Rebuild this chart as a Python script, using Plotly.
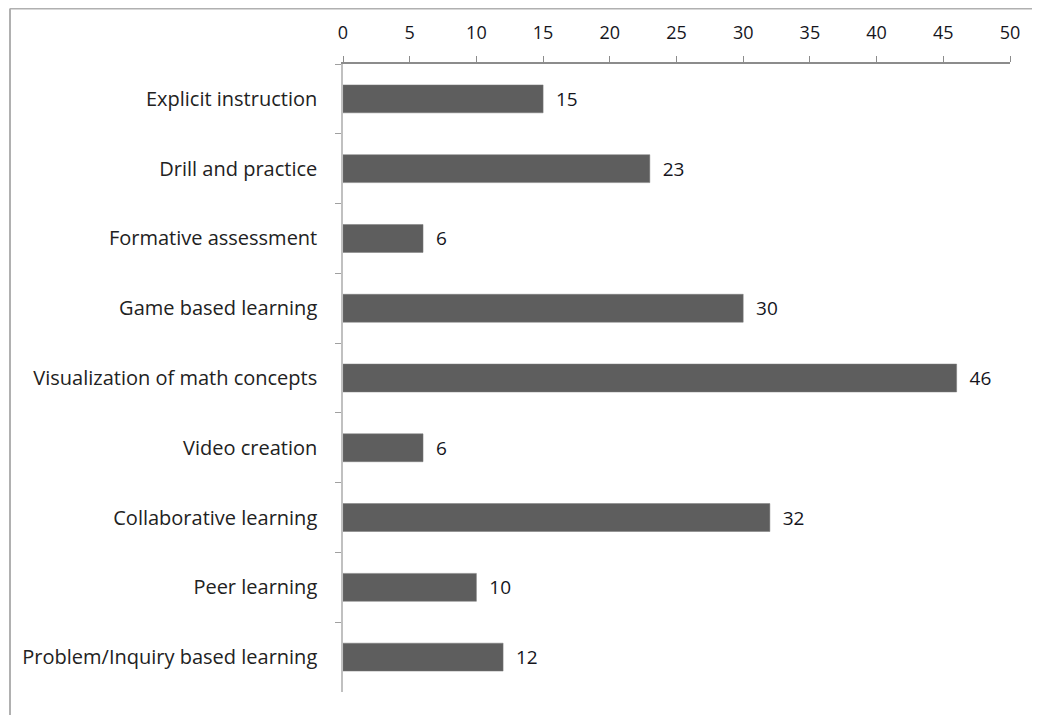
import plotly.graph_objects as go

categories = [
    "Explicit instruction",
    "Drill and practice",
    "Formative assessment",
    "Game based learning",
    "Visualization of math concepts",
    "Video creation",
    "Collaborative learning",
    "Peer learning",
    "Problem/Inquiry based learning",
]
values = [15, 23, 6, 30, 46, 6, 32, 10, 12]
x_ticks = [0, 5, 10, 15, 20, 25, 30, 35, 40, 45, 50]

# page has an 8px body margin, so the figure is sized to fit the window
W, H = 1032, 707
L, R, T, B = 335, 30, 56, 23
pw, ph = W - L - R, H - T - B

FONT = "Open Sans"

fig = go.Figure(go.Bar(
    y=categories,
    x=values,
    orientation="h",
    marker=dict(color="#5e5e5e", line=dict(color="#7a7a7a", width=0.5)),
    text=[str(v) for v in values],
    texttemplate="  %{text}",
    textposition="outside",
    textfont=dict(family=FONT, size=19, color="#15151c"),
    cliponaxis=False,
    width=0.4,
))

# outer frame lines (top and left)
fx = (2 - L) / pw
fy = 1 + (T - 0.5) / ph
fig.add_shape(type="line", xref="paper", yref="paper", x0=fx, x1=1 + R / pw, y0=fy, y1=fy,
              line=dict(color="#b0b0b0", width=2))
fig.add_shape(type="line", xref="paper", yref="paper", x0=fx, x1=fx, y0=fy, y1=-B / ph,
              line=dict(color="#b0b0b0", width=2))

fig.update_layout(
    width=W, height=H,
    margin=dict(l=L, r=R, t=T, b=B),
    paper_bgcolor="white",
    plot_bgcolor="white",
    showlegend=False,
    font=dict(family=FONT, size=20, color="#222222"),
    xaxis=dict(
        side="top",
        range=[0, 50],
        tickvals=x_ticks,
        ticktext=[str(t) for t in x_ticks],
        showgrid=False,
        zeroline=False,
        showline=True,
        linecolor="#8c8c8c",
        linewidth=1.5,
        ticks="outside",
        ticklen=6,
        tickcolor="#8c8c8c",
        ticklabelstandoff=10,
        tickfont=dict(family=FONT, size=18, color="#15151c"),
        fixedrange=True,
    ),
    yaxis=dict(
        categoryorder="array",
        categoryarray=categories,
        autorange="reversed",
        showgrid=False,
        zeroline=False,
        showline=True,
        linecolor="#c0c0c0",
        linewidth=1.5,
        ticks="outside",
        tickson="boundaries",
        ticklen=6,
        tickcolor="#a0a0a0",
        ticklabelstandoff=20,
        tickfont=dict(family=FONT, size=20, color="#222222"),
    ),
)

fig.write_html("out.html")
